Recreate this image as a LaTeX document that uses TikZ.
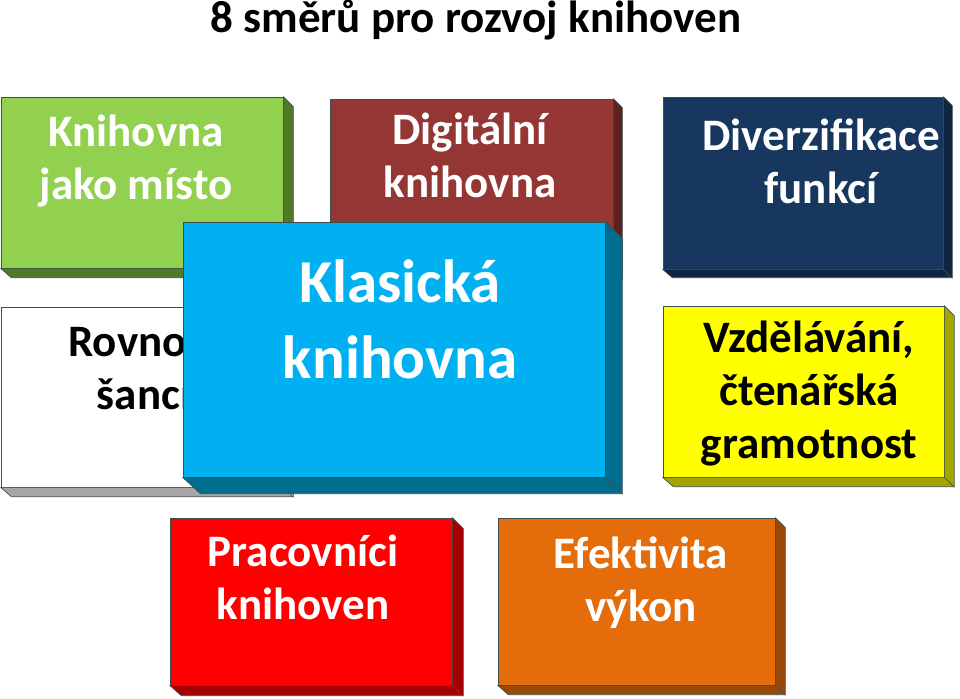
\documentclass[tikz,border=0pt]{standalone}
\usepackage{fontspec}
\setmainfont{Carlito}
\definecolor{grnF}{HTML}{92D050}
\definecolor{grnD}{HTML}{4F7A28}
\definecolor{brnF}{HTML}{943634}
\definecolor{brnD}{HTML}{5C2220}
\definecolor{navF}{HTML}{17375E}
\definecolor{navD}{HTML}{10253F}
\definecolor{whtD}{HTML}{A6A6A6}
\definecolor{ylwF}{HTML}{FFFF00}
\definecolor{ylwD}{HTML}{A5A500}
\definecolor{bluF}{HTML}{00B0F0}
\definecolor{bluD}{HTML}{006C8E}
\definecolor{redF}{HTML}{FF0000}
\definecolor{redD}{HTML}{A50000}
\definecolor{orgF}{HTML}{E46C0A}
\definecolor{orgD}{HTML}{984807}
\definecolor{rim}{HTML}{3F4F4F}
\tikzset{
  slab/.style={draw=rim, line width=0.7pt, inner sep=0pt},
  side/.style={draw=rim, line width=0.7pt, line join=round},
  lbl/.style={align=center, inner sep=0pt, anchor=north, text=white,
    font=\fontsize{45}{53}\selectfont\bfseries},
  big/.style={lbl, font=\fontsize{61}{76}\selectfont\bfseries}
}
\begin{document}
\begin{tikzpicture}[x=1pt,y=-1pt]
\useasboundingbox (0,0) rectangle (960,698);
\node[font=\fontsize{45}{53}\selectfont\bfseries, anchor=base] (title) at (476,33) {8 směrů pro rozvoj knihoven};

% top row
\node[slab, fill=grnF, minimum width=282pt, minimum height=171pt] (misto) at (142,182.5) {};
\fill[grnD, side] (misto.north east) -- ++(10,10) -- ++(0,171) -- ++(-282,0) -- (misto.south west) -- (misto.south east) -- cycle;
\draw[side] (misto.south east) -- ++(10,10);
\node[lbl] (mistoT) at (136,109) {\strut Knihovna\\jako místo};

\node[slab, fill=brnF, minimum width=283pt, minimum height=171pt] (digi) at (471.5,184.5) {};
\fill[brnD, side] (digi.north east) -- ++(9,9) -- ++(0,171) -- ++(-283,0) -- (digi.south west) -- (digi.south east) -- cycle;
\draw[side] (digi.south east) -- ++(9,9);
\node[lbl] (digiT) at (470,107) {\strut Digitální\\knihovna};

\node[slab, fill=navF, minimum width=280pt, minimum height=172pt] (funkce) at (803,183) {};
\fill[navD, side] (funkce.north east) -- ++(9,9) -- ++(0,172) -- ++(-280,0) -- (funkce.south west) -- (funkce.south east) -- cycle;
\draw[side] (funkce.south east) -- ++(9,9);
\node[lbl] (funkceT) at (821,113) {\strut Diverzifikace\\funkcí};

% middle row
\node[slab, fill=white, minimum width=282pt, minimum height=180pt] (sance) at (142,397) {};
\fill[whtD, side] (sance.north east) -- ++(10,10) -- ++(0,180) -- ++(-282,0) -- (sance.south west) -- (sance.south east) -- cycle;
\draw[side] (sance.south east) -- ++(10,10);
\node[lbl, text=black] (sanceT) at (144,319) {\strut Rovnost\\šancí};

\node[slab, fill=ylwF, minimum width=281pt, minimum height=171pt] (vzdel) at (803.5,391.5) {};
\fill[ylwD, side] (vzdel.north east) -- ++(10,10) -- ++(0,171) -- ++(-281,0) -- (vzdel.south west) -- (vzdel.south east) -- cycle;
\draw[side] (vzdel.south east) -- ++(10,10);
\node[lbl, text=black] (vzdelT) at (809,315) {\strut Vzdělávání,\\čtenářská\\gramotnost};

% centre
\node[slab, fill=bluF, minimum width=422pt, minimum height=255pt] (klasik) at (394,349.5) {};
\fill[bluD, side] (klasik.north east) -- ++(17,17) -- ++(0,255) -- ++(-422,0) -- (klasik.south west) -- (klasik.south east) -- cycle;
\draw[side] (klasik.south east) -- ++(17,17);
\node[big] (klasikT) at (400,249) {\strut Klasická\\knihovna};

% bottom row
\node[slab, fill=redF, minimum width=282pt, minimum height=167pt] (prac) at (311,601.5) {};
\fill[redD, side] (prac.north east) -- ++(11,11) -- ++(0,167) -- ++(-282,0) -- (prac.south west) -- (prac.south east) -- cycle;
\draw[side] (prac.south east) -- ++(11,11);
\node[lbl] (pracT) at (303,529) {\strut Pracovníci\\knihoven};

\node[slab, fill=orgF, minimum width=277pt, minimum height=167pt] (efekt) at (636.5,601.5) {};
\fill[orgD, side] (efekt.north east) -- ++(10,10) -- ++(0,167) -- ++(-277,0) -- (efekt.south west) -- (efekt.south east) -- cycle;
\draw[side] (efekt.south east) -- ++(10,10);
\node[lbl] (efektT) at (641,531) {\strut Efektivita\\výkon};
\end{tikzpicture}
\end{document}
